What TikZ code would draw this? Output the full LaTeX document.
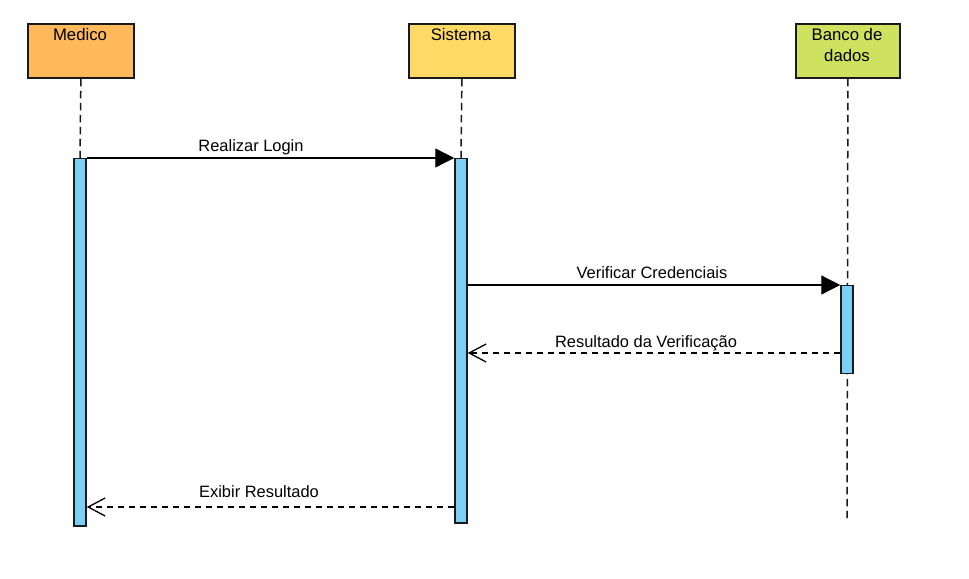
\documentclass[tikz,border=0pt]{standalone}
\usepackage{fontspec}
\setmainfont{Liberation Sans}
\usetikzlibrary{arrows.meta}
\definecolor{medfill}{HTML}{FFB85A}
\definecolor{sysfill}{HTML}{FFD966}
\definecolor{dbfill}{HTML}{CFE260}
\definecolor{barfill}{HTML}{7DCEF4}
\definecolor{edge}{HTML}{1A1A1A}
\tikzset{
  actor/.style={draw=edge, line width=1.8bp, minimum width=106bp, minimum height=54bp,
    inner sep=0pt, anchor=north west, align=center},
  actorlabel/.style={anchor=north, align=center, inner sep=0pt, font=\fontsize{16.8}{21}\selectfont},
  lifeline/.style={draw=edge, line width=1.5bp, dash pattern=on 7.5bp off 4.5bp},
  bar/.style={draw=edge, line width=1.5bp, fill=barfill, minimum width=12bp, inner sep=0pt, anchor=north},
  msg/.style={draw=black, line width=1.3bp, -{Triangle[length=19bp,width=19bp]}},
  ret/.style={draw=black, line width=1.3bp, dash pattern=on 6bp off 5bp, -{Straight Barb[length=17bp,width=18bp,line width=1.3bp]}},
  msglabel/.style={anchor=base, inner sep=0pt, font=\fontsize{16.5}{20}\selectfont},
}
\begin{document}
\begin{tikzpicture}[x=1bp,y=-1bp]
\useasboundingbox[fill=white] (0,0) rectangle (969,579);
% actors
\node[actor, fill=medfill] (med) at (27,23) {};
\node[actor, fill=sysfill] (sys) at (408,23) {};
\node[actor, fill=dbfill, minimum width=104bp] (db) at (795,23) {};
\node[actorlabel] (medt) at (80,28.5) {Medico};
\node[actorlabel] (syst) at (461,28.5) {Sistema};
\node[actorlabel] (dbt) at (847,28) {Banco de\\dados};
% lifeline ends
\coordinate (medend) at (80,160);
\coordinate (sysend) at (461,160);
\coordinate (dbend) at (847,518);
\draw[lifeline] (med.south) -- (medend);
\draw[lifeline] (sys.south) -- (sysend);
\draw[lifeline] (db.south) -- (dbend);
% activation bars
\node[bar, minimum height=367bp] (medbar) at (80,158) {};
\node[bar, minimum height=364bp] (sysbar) at (461,158) {};
\node[bar, minimum height=88bp] (dbbar) at (847,284.5) {};
% message levels
\coordinate (m1) at (0,158);
\coordinate (m2) at (0,285);
\coordinate (m3) at (0,353);
\coordinate (m4) at (0,507);
\draw[msg] (medbar.east |- m1) -- (sysbar.west |- m1);
\draw[msg] (sysbar.east |- m2) -- (dbbar.west |- m2);
\draw[ret] (dbbar.west |- m3) -- (sysbar.east |- m3);
\draw[ret] (sysbar.west |- m4) -- (medbar.east |- m4);
% labels
\node[msglabel] (l1) at (251,152) {Realizar Login};
\node[msglabel] (l2) at (652,279) {Verificar Credenciais};
\node[msglabel] (l3) at (646,347) {Resultado da Verificação};
\node[msglabel] (l4) at (259,497) {Exibir Resultado};
\end{tikzpicture}
\end{document}
